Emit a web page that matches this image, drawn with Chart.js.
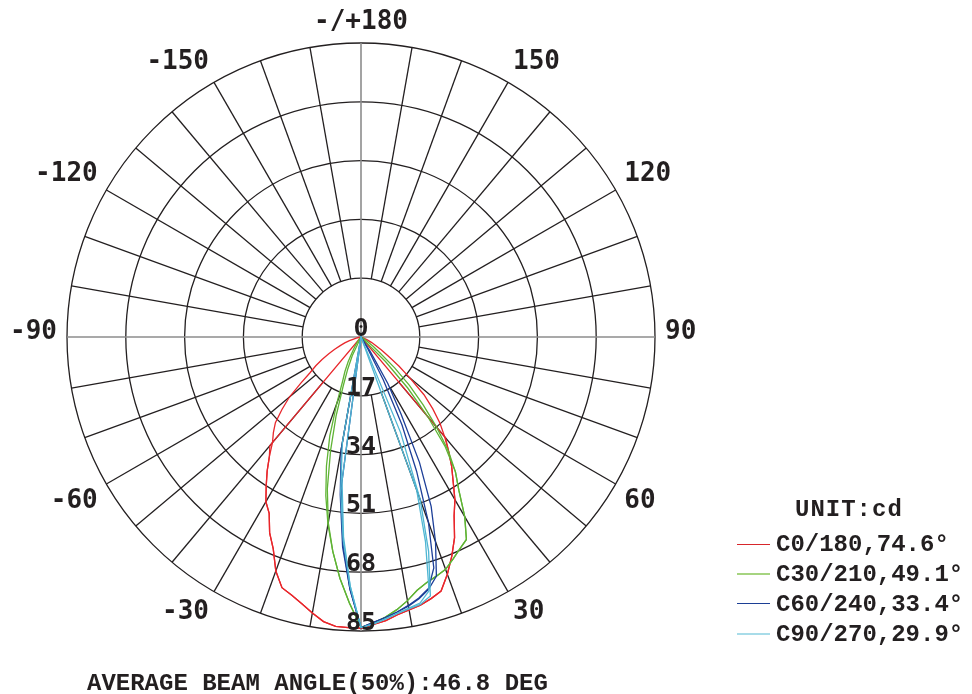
<!DOCTYPE html>
<html>
<head>
<meta charset="utf-8">
<script src="https://cdn.jsdelivr.net/npm/chart.js@4.4.1/dist/chart.umd.min.js"></script>
<style>
  html, body { margin: 0; padding: 0; background: #fff; }
  #wrap { position: relative; width: 972px; height: 694px; overflow: hidden; }
  #c { position: absolute; left: 0; top: 0; }
  .txt { position: absolute; font-family: "Liberation Mono", "Courier New", monospace; font-weight: bold;
         font-size: 24px; line-height: 24px; color: #231f20; white-space: nowrap; }
  .swatch { position: absolute; width: 33px; }
</style>
</head>
<body>
<div id="wrap">
  <canvas id="c" width="972" height="694"></canvas>
</div>
<script>
// --- data (intensity in cd, gamma -90..90 every 2.5 deg) ---
const ringTicks = [0, 17, 34, 51, 68, 85];
const angleTicks = [180, 150, 120, 90, 60, 30, -30, -60, -90, -120, -150];
const seriesNames = ["C0/180,74.6°", "C30/210,49.1°", "C60/240,33.4°", "C90/270,29.9°"];
const unitLabel = "UNIT:cd";
const caption = "AVERAGE BEAM ANGLE(50%):46.8 DEG";

const c0 = [
  0, 0, 0, 0, 0, 1, 2, 3.5, 5, 6.5, 8.5, 10.5,
  13, 15.5, 18, 22, 27, 31, 35, 37.5, 39.8, 43.5, 47.3, 51,
  55, 57.5, 62.5, 66.3, 72, 76, 77.3, 79, 81, 83, 84, 84.1,
  84.2,
  83.2, 82.3, 81, 80.1, 79.4, 78.3, 77, 73, 68.6, 64, 58.3, 54.3,
  49.6, 45.7, 41.6, 37.6, 33.8, 29.3, 24.7, 18.5, 13.8, 9.5, 7, 5,
  3.5, 2, 1, 0, 0, 0, 0, 0, 0, 0, 0, 0
];
const c180 = [
  0, 0, 0, 0, 0, 0, 0, 0, 0, 0, 0, 0,
  0, 0, 0, 0, 0, 0, 0, 0, 41, 43.5, 47.3, 51,
  55, 57.5, 62.5, 66.3, 72, 76, 77.3, 79, 81, 83, 84, 84.1,
  84.2,
  83.2, 82.3, 81, 80.1, 79.4, 78.3, 77, 73, 68.6, 64, 58.3, 54.3,
  49.6, 45.7, 41.6, 38, 0, 0, 0, 0, 0, 0, 0, 0,
  0, 0, 0, 0, 0, 0, 0, 0, 0, 0, 0, 0
];
const c30 = [
  0, 0, 0, 0, 0, 0, 0, 0, 0, 0, 0, 0,
  0, 0, 0, 0, 0, 0, 0, 0, 0.5, 1.2, 2, 3.5,
  5, 8, 11, 14, 20.5, 30, 38.6, 47, 55, 62.5, 70, 77,
  84,
  82.8, 81.3, 79.5, 77.4, 75, 73.5, 72.5, 71.5, 69.5, 67.6, 66, 60,
  52.7, 47.6, 41.5, 34, 26.6, 19.8, 13.2, 7.2, 4.5, 2.5, 1, 0,
  0, 0, 0, 0, 0, 0, 0, 0, 0, 0, 0, 0
];
const c210 = [
  0, 0, 0, 0, 0, 0, 0, 0, 0, 0, 0, 0,
  0, 0, 0, 0, 0, 0, 0, 0, 0, 0, 0, 0,
  0, 0, 6, 10, 15, 24, 34, 45, 54.5, 62.5, 70, 77,
  84,
  82.8, 81.3, 79.5, 77.4, 75, 73.5, 72.5, 71.5, 69.5, 67.6, 66, 60,
  52.7, 47.6, 40, 30, 20, 10, 0, 0, 0, 0, 0, 0,
  0, 0, 0, 0, 0, 0, 0, 0, 0, 0, 0, 0
];
const c60 = [
  0, 0, 0, 0, 0, 0, 0, 0, 0, 0, 0, 0,
  0, 0, 0, 0, 0, 0, 0, 0, 0, 0, 0, 0,
  0, 0, 0, 0, 0, 0, 0, 0, 33, 46, 61, 73,
  84,
  82.6, 81.4, 80.2, 79, 77.5, 75.5, 72.5, 63, 53, 40, 25, 15.5,
  5, 0, 0, 0, 0, 0, 0, 0, 0, 0, 0, 0,
  0, 0, 0, 0, 0, 0, 0, 0, 0, 0, 0, 0
];
const c240 = [
  0, 0, 0, 0, 0, 0, 0, 0, 0, 0, 0, 0,
  0, 0, 0, 0, 0, 0, 0, 0, 0, 0, 0, 0,
  0, 0, 0, 0, 0, 0, 0, 0, 0, 44, 60, 73,
  84,
  82.6, 81.4, 80.2, 78.8, 77.3, 75.3, 70, 57, 42, 28, 14, 4,
  0, 0, 0, 0, 0, 0, 0, 0, 0, 0, 0, 0,
  0, 0, 0, 0, 0, 0, 0, 0, 0, 0, 0, 0
];
const c90 = [
  0, 0, 0, 0, 0, 0, 0, 0, 0, 0, 0, 0,
  0, 0, 0, 0, 0, 0, 0, 0, 0, 0, 0, 0,
  0, 0, 0, 0, 0, 0, 0, 0, 31, 45, 59, 72,
  84,
  83, 81.8, 80.6, 79.8, 79.2, 77.5, 65, 50, 30, 0, 0, 0,
  0, 0, 0, 0, 0, 0, 0, 0, 0, 0, 0, 0,
  0, 0, 0, 0, 0, 0, 0, 0, 0, 0, 0, 0
];
const c270 = [
  0, 0, 0, 0, 0, 0, 0, 0, 0, 0, 0, 0,
  0, 0, 0, 0, 0, 0, 0, 0, 0, 0, 0, 0,
  0, 0, 0, 0, 0, 0, 0, 0, 0, 42, 58, 72,
  84,
  83, 81.8, 80.6, 79.6, 78.8, 76, 62, 47, 0, 0, 0, 0,
  0, 0, 0, 0, 0, 0, 0, 0, 0, 0, 0, 0,
  0, 0, 0, 0, 0, 0, 0, 0, 0, 0, 0, 0
];

const lineColors = ["#e8262b", "#5fb334", "#1d3f98", "#4fb6d3"];
const swatchColors = ["#d7262b", "#a6d480", "#1c3f95", "#a8dce9"];
const swatchWidths = [1, 2.5, 1.5, 2.5];
const ink = "#231f20";

// gamma for each radar spoke: index 0 at bottom, going clockwise (left = negative)
const STEP = 2.5;
const gammas = [];
for (let i = 0; i < 360 / STEP; i++) {
  let g = -STEP * i;
  if (g < -180) g += 360;
  gammas.push(g);
}
function onSpokes(curve) {
  return gammas.map(g => Math.abs(g) <= 90 ? curve[Math.round((g + 90) / STEP)] : 0);
}

// spokes every 10 deg, labels, ring values
const polarDecor = {
  id: "polarDecor",
  beforeDatasetsDraw(chart) {
    const r = chart.scales.r, ctx = chart.ctx;
    ctx.save();
    gammas.forEach((g, i) => {
      if (g % 10 !== 0) return;
      const main = g % 90 === 0;
      const a = r.getPointPositionForValue(i, main ? 0 : ringTicks[1]);
      const b = r.getPointPositionForValue(i, ringTicks[ringTicks.length - 1]);
      ctx.beginPath();
      ctx.moveTo(a.x, a.y);
      ctx.lineTo(b.x, b.y);
      ctx.strokeStyle = main ? "#8c8c8c" : ink;
      ctx.lineWidth = main ? 1.6 : 1.3;
      ctx.stroke();
    });
    ctx.restore();
  },
  afterDatasetsDraw(chart) {
    const r = chart.scales.r, ctx = chart.ctx;
    ctx.save();
    ctx.fillStyle = ink;
    // angle labels
    ctx.font = 'bold 26px "DejaVu Sans Mono"';
    angleTicks.forEach(g => {
      const i = gammas.indexOf(g === 180 ? -180 : g);
      const p = r.getPointPosition(i, r.drawingArea + 10);
      const dx = p.x - r.xCenter;
      ctx.textAlign = Math.abs(dx) < 1 ? "center" : (dx > 0 ? "left" : "right");
      ctx.textBaseline = "alphabetic";
      let y;
      if (Math.abs(g) === 90) y = p.y + 2;
      else if (Math.abs(g) > 90) y = p.y - 4.5;
      else y = p.y + 19;
      ctx.fillText(g === 180 ? "-/+180" : String(g), p.x, y);
    });
    // ring values along the 0 deg axis
    ctx.font = 'bold 25px "DejaVu Sans Mono"';
    ctx.textAlign = "center";
    const i0 = gammas.indexOf(0);
    ringTicks.forEach(v => {
      const p = r.getPointPositionForValue(i0, v);
      ctx.fillText(String(v), p.x, p.y - 1);
    });
    ctx.restore();
  }
};

const curves = [[c90, c270, 3], [c60, c240, 2], [c30, c210, 1], [c0, c180, 0]];
const datasets = [];
curves.forEach(([a, b, k]) => {
  [a, b].forEach(arr => datasets.push({
    label: seriesNames[k],
    data: onSpokes(arr),
    borderColor: lineColors[k],
    borderWidth: 1.3,
    pointRadius: 0,
    fill: false,
    tension: 0
  }));
});

new Chart(document.getElementById("c"), {
  type: "radar",
  data: { labels: gammas.map(String), datasets },
  options: {
    responsive: false,
    animation: false,
    events: [],
    layout: { padding: { left: 67, top: 43, right: 317, bottom: 63 } },
    plugins: { legend: { display: false }, tooltip: { enabled: false } },
    scales: {
      r: {
        min: 0, max: 85,
        startAngle: 180,
        ticks: { display: false, stepSize: 17 },
        grid: { circular: true, color: ink, lineWidth: 1.3 },
        angleLines: { display: false },
        pointLabels: { display: false }
      }
    }
  },
  plugins: [polarDecor]
});

// legend and caption as page text
const wrap = document.getElementById("wrap");
function addText(str, left, top, spacing) {
  const d = document.createElement("div");
  d.className = "txt";
  d.textContent = str;
  d.style.left = left + "px";
  d.style.top = top + "px";
  if (spacing) d.style.letterSpacing = spacing + "px";
  wrap.appendChild(d);
}
addText(unitLabel, 795, 498, 1);
seriesNames.forEach((name, k) => {
  const yc = 544 + 30 * k;
  addText(name, 776, yc - 11);
  const s = document.createElement("div");
  s.className = "swatch";
  s.style.left = "737px";
  s.style.top = (yc - swatchWidths[k] / 2) + "px";
  s.style.borderTop = swatchWidths[k] + "px solid " + swatchColors[k];
  wrap.appendChild(s);
});
addText(caption, 87, 672);
</script>
</body>
</html>
